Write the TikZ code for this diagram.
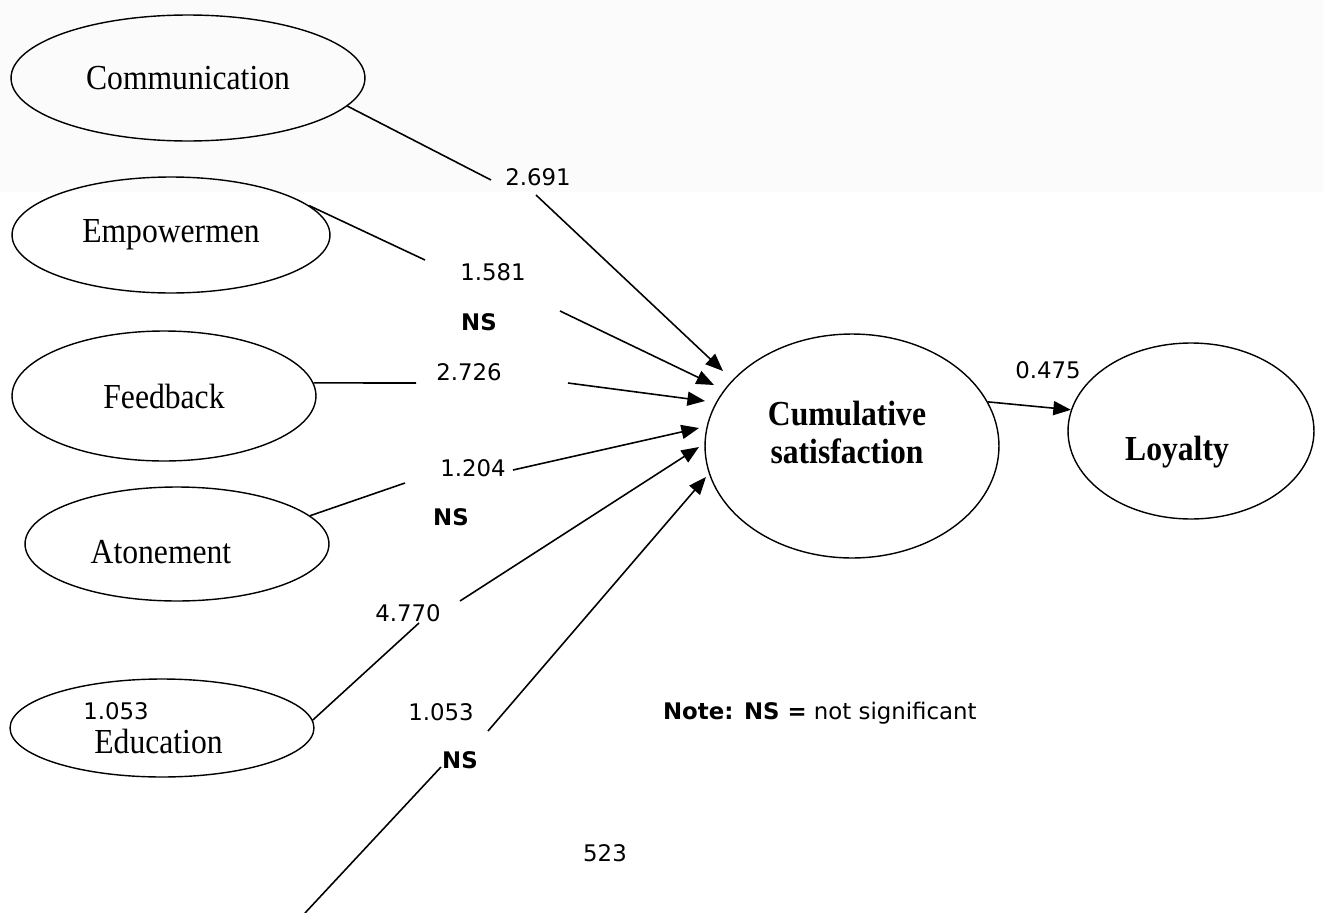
\documentclass[tikz,border=0pt]{standalone}
\usepackage{fontspec}
\setmainfont{Liberation Serif}[FakeStretch=0.9]
\newfontfamily\lblfont{DejaVu Sans}
\usetikzlibrary{arrows.meta,shapes.geometric}
\definecolor{bandgray}{HTML}{FBFBFB}

\begin{document}
\begin{tikzpicture}[
  x=0.02cm, y=-0.02cm,
  latent/.style={draw, ellipse, line width=0.8pt, inner sep=0pt,
                 font=\fontsize{20}{19}\selectfont},
  ltxt/.style={inner sep=0pt, font=\fontsize{20}{21.6}\selectfont},
  coef/.style={inner sep=1pt, font=\lblfont\fontsize{13}{15}\selectfont},
  nsmark/.style={inner sep=1pt, font=\lblfont\bfseries\fontsize{13}{15}\selectfont},
  link/.style={line width=0.9pt},
  arr/.style={-{Triangle[length=10pt, width=8pt]}, line width=0.9pt},
]
\useasboundingbox (0,0) rectangle (1323,913);
\fill[bandgray] (0,0) rectangle (1323,192);

% constructs
\node[latent, minimum width=7.08cm, minimum height=2.52cm] (comm) at (188,78)
  {Communication};
\node[latent, minimum width=6.36cm, minimum height=2.32cm] (emp) at (171,235)
  {Empowermen};
\node[latent, minimum width=6.08cm, minimum height=2.60cm] (feed) at (164,396)
  {Feedback};
\node[latent, minimum width=6.08cm, minimum height=2.28cm,
      label={[ltxt, xshift=-0.32cm, yshift=-0.16cm]center:Atonement}] (aton) at (177,544) {};
\node[latent, minimum width=6.08cm, minimum height=1.96cm, align=left] (edu) at (162,728)
  {\hspace*{-0.36cm}{\lblfont\fontsize{13}{15}\selectfont 1.053}\\\hspace*{-0.14cm}Education};
\node[latent, minimum width=5.88cm, minimum height=4.48cm,
      label={[ltxt, align=center, font=\fontsize{20}{21.6}\selectfont\bfseries,
              xshift=-0.1cm, yshift=0.28cm]center:Cumulative\\satisfaction}] (cum) at (852,446) {};
\node[latent, minimum width=4.92cm, minimum height=3.52cm,
      label={[ltxt, font=\fontsize{20}{21.6}\selectfont\bfseries,
              xshift=-0.28cm, yshift=-0.42cm]center:Loyalty}] (loy) at (1191,431) {};

% path coefficients
\node[coef] (c1) at (538,177) {2.691};
\node[coef] (c2) at (493,272) {1.581};
\node[nsmark] (ns2) at (479,322) {NS};
\node[coef] (c3) at (469,372) {2.726};
\node[coef] (c4) at (473,468) {1.204};
\node[nsmark] (ns4) at (451,517) {NS};
\node[coef] (c5) at (408,613) {4.770};
\node[coef] (c6) at (441,712) {1.053};
\node[nsmark] (ns6) at (460,760) {NS};
\node[coef] (c7) at (1048,370) {0.475};
\node[coef, anchor=west] (note) at (661,713) {\textbf{Note: NS =} not significant};
\node[coef] (pg) at (605,853) {523};

% break points and arrow tips
\coordinate (b1i) at (491,180); \coordinate (b1o) at (536,195); \coordinate (t1) at (723,371);
\coordinate (b2i) at (425,260); \coordinate (b2o) at (560,311); \coordinate (t2) at (714,385);
\coordinate (b3i) at (416,383); \coordinate (b3o) at (568,383); \coordinate (t3) at (705,401);
\coordinate (b4i) at (405,483); \coordinate (b4o) at (513,470); \coordinate (t4) at (699,428);
\coordinate (b5i) at (419,623); \coordinate (b5o) at (460,601); \coordinate (t5) at (699,447);
\coordinate (b6s) at (305,913); \coordinate (b6i) at (441,767);
\coordinate (b6o) at (488,731); \coordinate (t6) at (706,477);

% paths
\draw[link] (comm.-10) -- (b1i);
\draw[arr] (b1o) -- (t1);
\draw[link] (emp.12) -- (b2i);
\draw[arr] (b2o) -- (t2);
\draw[link] (feed.5) -- (b3i);
\draw[arr] (b3o) -- (t3);
\draw[link] (aton.12) -- (b4i);
\draw[arr] (b4o) -- (t4);
\draw[link] (edu.3) -- (b5i);
\draw[arr] (b5o) -- (t5);
\draw[link] (b6s) -- (b6i);
\draw[arr] (b6o) -- (t6);
\draw[arr] (cum.18) -- (loy.170);
\end{tikzpicture}
\end{document}
